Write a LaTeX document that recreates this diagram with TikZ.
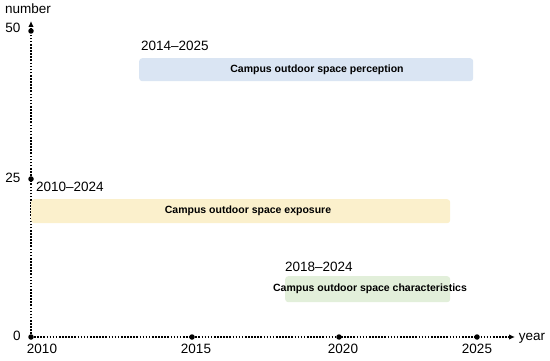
\documentclass[tikz,border=0pt]{standalone}
\usepackage{fontspec}
\setmainfont{Liberation Sans}
\usetikzlibrary{arrows.meta}
\definecolor{barblue}{HTML}{DAE5F3}
\definecolor{baryellow}{HTML}{FBF0CC}
\definecolor{bargreen}{HTML}{E2EFDA}
\begin{document}
\begin{tikzpicture}[x=1pt,y=-1pt,
  axisline/.style={line width=2.3pt, dash pattern=on 1.6pt off 1.5pt, -{Latex[length=6pt,width=5.5pt]}},
  tickdot/.style={circle, fill=black, inner sep=0pt, minimum size=5.5pt},
  barbox/.style={rounded corners=3pt, inner sep=0pt, anchor=north west},
  bartext/.style={inner sep=0pt, font=\bfseries\fontsize{10.5}{12}\selectfont},
  yrlabel/.style={font=\fontsize{13.5}{16}\selectfont, inner sep=0pt},
  ticklabel/.style={font=\fontsize{13.5}{16}\selectfont, inner sep=0pt}]
\useasboundingbox (0,0) rectangle (550,361);
% axes
\coordinate (O) at (31,337);
\coordinate (xend) at (515,337);
\coordinate (yend) at (31,21);
\draw[axisline] (O) -- (xend);
\draw[axisline] (O) -- (yend);
% ticks
\node[tickdot] (t2010) at (31,337) {};
\node[tickdot] (t2015) at (192,337) {};
\node[tickdot] (t2020) at (339,337) {};
\node[tickdot] (t2025) at (477,337) {};
\node[tickdot] (t25) at (31,179) {};
\node[tickdot] (t50) at (31,31) {};
% tick labels
\node[ticklabel] (l2010) at (42,349) {2010};
\node[ticklabel] (l2015) at (196,349) {2015};
\node[ticklabel] (l2020) at (343,349) {2020};
\node[ticklabel] (l2025) at (477,349) {2025};
\node[ticklabel] (l0) at (17,336) {0};
\node[ticklabel] (l25) at (13,178) {25};
\node[ticklabel] (l50) at (13,28) {50};
\node[ticklabel] (lnum) at (28,9) {number};
\node[ticklabel] (lyear) at (532,338) {year};
% bars
\node[barbox, fill=barblue, minimum width=334pt, minimum height=23pt] (perc) at (139,58) {};
\node[barbox, fill=baryellow, minimum width=419pt, minimum height=24pt] (expo) at (31,199) {};
\node[barbox, fill=bargreen, minimum width=165pt, minimum height=26pt] (char) at (285,276) {};
\node[bartext] (perct) at (317,69.5) {Campus outdoor space perception};
\node[bartext] (expot) at (248,211) {Campus outdoor space exposure};
\node[bartext] (chart) at (370,289) {Campus outdoor space characteristics};
% range labels
\node[yrlabel, anchor=base west] (r1) at (141,51) {2014–2025};
\node[yrlabel, anchor=base west] (r2) at (36,192) {2010–2024};
\node[yrlabel, anchor=base west] (r3) at (285,272) {2018–2024};
\end{tikzpicture}
\end{document}
